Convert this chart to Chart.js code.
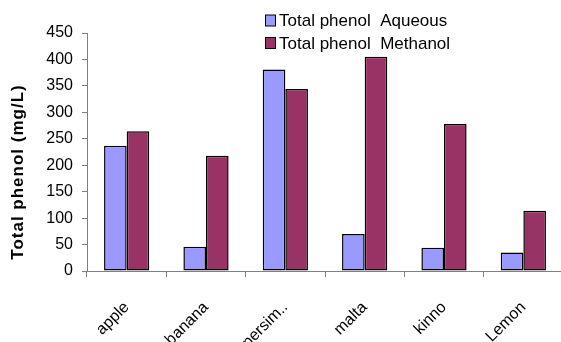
<!DOCTYPE html>
<html>
<head>
<meta charset="utf-8">
<script src="https://cdn.jsdelivr.net/npm/chart.js@4.4.0/dist/chart.umd.min.js"></script>
<style>
html,body{margin:0;padding:0;background:#fff;overflow:hidden;width:561px;height:342px;}
#wrap{width:563px;height:342px;}
</style>
</head>
<body>
<div id="wrap"><canvas id="c" width="563" height="342"></canvas></div>
<script>
const categories = ["apple", "banana", "persim..", "malta", "kinno", "Lemon"];
const aqueous = [237, 46, 381, 70, 44, 35];
const methanol = [264, 218, 344, 405, 278, 114];
const seriesNames = ["Total phenol  Aqueous", "Total phenol  Methanol"];
const yTitle = "Total phenol (mg/L)";
const yMin = 0, yMax = 450, yStep = 50;

const FONT = "'Liberation Sans', Arial, sans-serif";

const customDecor = {
  id: 'customDecor',
  afterDraw(chart) {
    const ctx = chart.ctx;
    ctx.save();
    // legend
    ctx.font = "17px " + FONT;
    ctx.textBaseline = "middle";
    ctx.textAlign = "left";
    chart.data.datasets.forEach((ds, i) => {
      const y = 20.5 + i * 22.5;
      ctx.fillStyle = ds.backgroundColor;
      ctx.fillRect(265.5, y - 5.5, 10, 11);
      ctx.strokeStyle = "#000";
      ctx.lineWidth = 1;
      ctx.strokeRect(265.5, y - 5.5, 10, 11);
      ctx.fillStyle = "#000";
      ctx.fillText(ds.label, 279, y + 1);
    });
    // y title
    ctx.translate(18, 172);
    ctx.rotate(-Math.PI / 2);
    ctx.font = "bold 17px " + FONT;
    try { ctx.letterSpacing = "1px"; } catch (e) {}
    ctx.textAlign = "center";
    ctx.textBaseline = "middle";
    ctx.fillText(yTitle, 0, 0);
    ctx.restore();
  }
};

new Chart(document.getElementById('c'), {
  type: 'bar',
  data: {
    labels: categories,
    datasets: [
      { label: seriesNames[0], data: aqueous, backgroundColor: '#9999FF', borderColor: '#000', borderWidth: 1.5, borderSkipped: false },
      { label: seriesNames[1], data: methanol, backgroundColor: '#993366', borderColor: '#000', borderWidth: 1.5, borderSkipped: false }
    ]
  },
  options: {
    responsive: false,
    animation: false,
    devicePixelRatio: 1,
    layout: { padding: { top: 33, left: 0, right: 0, bottom: 0 } },
    datasets: { bar: { categoryPercentage: 0.57, barPercentage: 1.0 } },
    plugins: { legend: { display: false }, tooltip: { enabled: false }, title: { display: false } },
    scales: {
      x: {
        grid: { display: true, offset: true, drawOnChartArea: false, drawTicks: true, tickLength: 6, color: '#808080' },
        border: { display: true, color: '#808080', width: 1 },
        ticks: { color: '#000', font: { family: FONT, size: 16 }, maxRotation: 45, minRotation: 45, padding: 21, autoSkip: false },
        afterFit(scale) { scale.height = 71; }
      },
      y: {
        min: yMin, max: yMax,
        grid: { display: true, drawOnChartArea: false, drawTicks: true, tickLength: 5, color: '#808080' },
        border: { display: true, color: '#808080', width: 1 },
        ticks: { stepSize: yStep, color: '#000', font: { family: FONT, size: 16 }, padding: 9 },
        afterFit(scale) { scale.width = 87; }
      }
    }
  },
  plugins: [customDecor]
});
</script>
</body>
</html>
